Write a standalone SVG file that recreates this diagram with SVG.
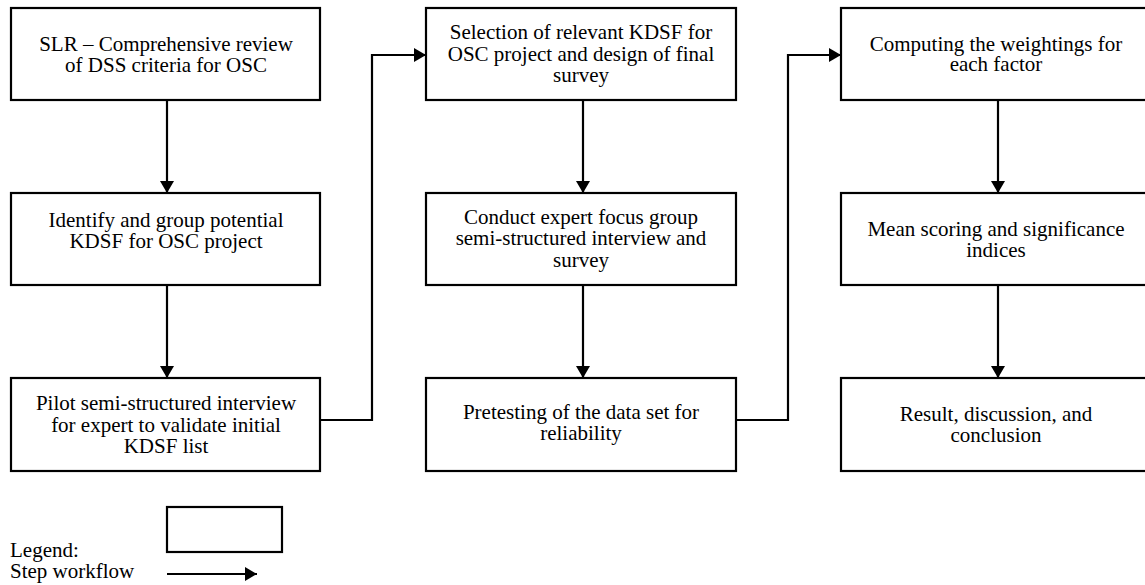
<svg xmlns="http://www.w3.org/2000/svg" width="1145" height="585" viewBox="0 0 1145 585">
<style>
.box{fill:#fff;stroke:#000;stroke-width:2.2}
.c{fill:none;stroke:#000;stroke-width:2.2}
</style>
<defs>
<marker id="ah" markerWidth="14" markerHeight="14" refX="12" refY="7" orient="auto" markerUnits="userSpaceOnUse">
<path d="M0,0 L12,7 L0,14 Z" fill="#000"/>
</marker>
</defs>
<rect width="1145" height="585" fill="#fff"/>
<g id="connectors">
<path class="c" d="M167,100 V193" marker-end="url(#ah)"/>
<path class="c" d="M167,285 V378" marker-end="url(#ah)"/>
<path class="c" d="M320,420 H372 V55 H426" marker-end="url(#ah)"/>
<path class="c" d="M583,100 V193" marker-end="url(#ah)"/>
<path class="c" d="M583,285 V378" marker-end="url(#ah)"/>
<path class="c" d="M736,420 H788 V55 H841" marker-end="url(#ah)"/>
<path class="c" d="M998,100 V193" marker-end="url(#ah)"/>
<path class="c" d="M998,285 V378" marker-end="url(#ah)"/>
</g>
<g font-family="'Liberation Serif', 'Times New Roman', serif" font-size="21" fill="#000" text-anchor="middle">
<g id="n1"><rect class="box" x="11" y="8" width="309" height="92"/>
<text x="166" y="51">SLR – Comprehensive review</text>
<text x="166" y="72">of DSS criteria for OSC</text></g>
<g id="n2"><rect class="box" x="11" y="193" width="309" height="92"/>
<text x="166" y="227">Identify and group potential</text>
<text x="166" y="248">KDSF for OSC project</text></g>
<g id="n3"><rect class="box" x="11" y="378" width="309" height="93"/>
<text x="166" y="410">Pilot semi-structured interview</text>
<text x="166" y="432">for expert to validate initial</text>
<text x="166" y="453">KDSF list</text></g>
<g id="n4"><rect class="box" x="426" y="8" width="310" height="92"/>
<text x="581" y="39">Selection of relevant KDSF for</text>
<text x="581" y="61">OSC project and design of final</text>
<text x="581" y="82">survey</text></g>
<g id="n5"><rect class="box" x="426" y="193" width="310" height="92"/>
<text x="581" y="224">Conduct expert focus group</text>
<text x="581" y="245">semi-structured interview and</text>
<text x="581" y="267">survey</text></g>
<g id="n6"><rect class="box" x="426" y="378" width="310" height="93"/>
<text x="581" y="419">Pretesting of the data set for</text>
<text x="581" y="440">reliability</text></g>
<g id="n7"><rect class="box" x="841" y="8" width="310" height="92"/>
<text x="996" y="51">Computing the weightings for</text>
<text x="996" y="71">each factor</text></g>
<g id="n8"><rect class="box" x="841" y="193" width="310" height="92"/>
<text x="996" y="236">Mean scoring and significance</text>
<text x="996" y="257">indices</text></g>
<g id="n9"><rect class="box" x="841" y="378" width="310" height="93"/>
<text x="996" y="421">Result, discussion, and</text>
<text x="996" y="442">conclusion</text></g>
</g>
<g id="legend" font-family="'Liberation Serif', 'Times New Roman', serif" font-size="21" fill="#000">
<rect class="box" x="167" y="507" width="115" height="45"/>
<text x="10" y="557">Legend:</text>
<text x="10" y="578">Step workflow</text>
<path class="c" d="M167,574 H257" marker-end="url(#ah)"/>
</g>
</svg>
